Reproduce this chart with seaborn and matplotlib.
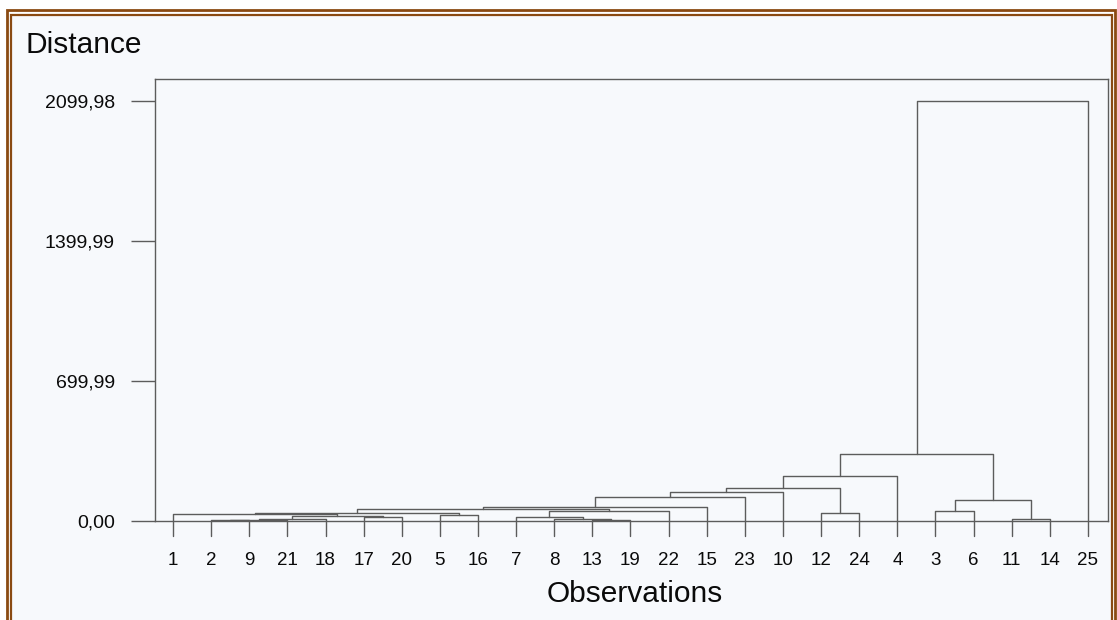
import numpy as np
import pandas as pd
import matplotlib
matplotlib.use("Agg")
import matplotlib.pyplot as plt
from matplotlib.patches import Rectangle
import seaborn as sns

# ---------------- data ----------------
leaf_labels = ["1", "2", "9", "21", "18", "17", "20", "5", "16", "7", "8", "13",
               "19", "22", "15", "23", "10", "12", "24", "4", "3", "6", "11", "14", "25"]

# merges in order; "nK" refers to the K-th merge
merge_left = ["13", "8", "7", "n2", "2", "n4", "n5", "17", "n6", "1", "5", "n9",
              "n11", "n12", "n13", "n14", "12", "n15", "n17", "3", "11", "n19", "n18", "n22"]
merge_right = ["19", "n0", "n1", "22", "9", "21", "18", "20", "n7", "n8", "16", "n10",
               "n3", "15", "23", "10", "24", "n16", "4", "6", "14", "n20", "n21", "25"]
merge_height = [3, 10, 20, 52, 3, 6, 12, 20, 25, 35, 30, 40,
                60, 70, 120, 145, 40, 165, 225, 50, 10, 105, 335, 2099.98]

ytick_values = [0.0, 699.99, 1399.99, 2099.98]
ytick_labels = ["0,00", "699,99", "1399,99", "2099,98"]

# ---------------- build segments ----------------
LEAF_BASE = -75.0
pos = {lab: (float(i), LEAF_BASE) for i, lab in enumerate(leaf_labels)}
rows = []
for k, (a, b, h) in enumerate(zip(merge_left, merge_right, merge_height)):
    xa, ha = pos[a]
    xb, hb = pos[b]
    for j, (xx, yy) in enumerate([(xa, ha), (xa, h), (xb, h), (xb, hb)]):
        rows.append({"seg": k, "order": j, "x": xx, "y": yy})
    pos[f"n{k}"] = ((xa + xb) / 2.0, h)
seg_df = pd.DataFrame(rows)

# ---------------- figure ----------------
sns.set_style("white")
plt.rcParams["font.family"] = ["Liberation Sans", "DejaVu Sans"]

W, H = 1117, 620
fig = plt.figure(figsize=(W / 100, H / 100), dpi=100)
fig.patch.set_facecolor("white")

# scanned-page background inside frame and brown double frame
brown = "#8a4a12"
fig.add_artist(Rectangle((11 / W, 0), (1111 - 11) / W, 1 - 15 / H,
                         transform=fig.transFigure, facecolor="#f7f9fc",
                         edgecolor="none", zorder=0))
fig.add_artist(Rectangle((7 / W, -0.01), (1115 - 7) / W, 1 - 10 / H + 0.01,
                         transform=fig.transFigure, fill=False,
                         edgecolor=brown, linewidth=2.0, zorder=1))
fig.add_artist(Rectangle((10.5 / W, -0.01), (1111.5 - 10.5) / W, 1 - 14.5 / H + 0.01,
                         transform=fig.transFigure, fill=False,
                         edgecolor=brown, linewidth=1.6, zorder=1))

ax = fig.add_axes([155 / W, 1 - 521 / H, (1108 - 155) / W, (521 - 79) / H])
ax.set_facecolor("none")

line_col = "#5c5c5c"
lw = 1.0
sns.lineplot(data=seg_df, x="x", y="y", units="seg", estimator=None, sort=False,
             color=line_col, linewidth=lw, ax=ax, legend=False)
for ln in ax.get_lines():
    ln.set_clip_on(False)

step = (1088 - 173) / 24.0
ax.set_xlim(-(173 - 155) / step, 24 + (1108 - 1088) / step)
ax.set_ylim(0, 2099.98 * 442 / 420)

for sp in ax.spines.values():
    sp.set_visible(True)
    sp.set_color(line_col)
    sp.set_linewidth(lw)

ax.set_yticks(ytick_values)
ax.set_yticklabels(ytick_labels)
ax.tick_params(axis="y", which="major", length=17, width=lw, color=line_col,
               pad=12, labelsize=14, labelcolor="#0a0a0a", left=True, direction="out")

ax.set_xticks(np.arange(len(leaf_labels)))
ax.set_xticklabels(leaf_labels)
ax.tick_params(axis="x", length=0, pad=22, labelsize=13.5, labelcolor="#0a0a0a")

ax.set_xlabel("")
ax.set_ylabel("")

fig.text(26 / W, 1 - 53 / H, "Distance", fontsize=21.5, color="#0a0a0a",
         ha="left", va="baseline")
fig.text(635 / W, 1 - 602 / H, "Observations", fontsize=21.5, color="#0a0a0a",
         ha="center", va="baseline")

fig.savefig("out.png", dpi=100, facecolor=fig.get_facecolor())
